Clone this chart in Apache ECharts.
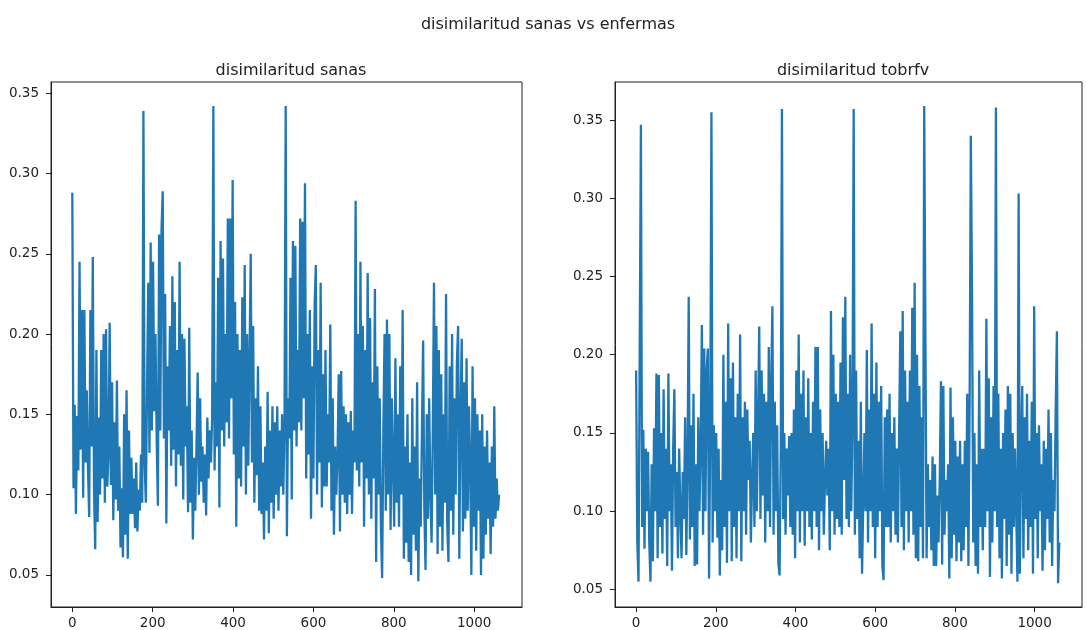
<!DOCTYPE html>
<html>
<head>
<meta charset="utf-8">
<script src="https://cdn.jsdelivr.net/npm/echarts@6/dist/echarts.min.js"></script>
<style>
html,body{margin:0;padding:0;background:#fff;}
#c{width:1087px;height:630px;}
</style>
</head>
<body>
<div id="c"></div>
<script>
// sample spacing of the values below (every 3rd sample of ~1065)
const STEP = 3;
const suptitle = 'disimilaritud sanas vs enfermas';
const titles = ['disimilaritud sanas', 'disimilaritud tobrfv'];
const xTicks = [0, 200, 400, 600, 800, 1000];
const yTicks = [0.05, 0.10, 0.15, 0.20, 0.25, 0.30, 0.35];

const sanas = [
0.288,0.104,0.156,0.088,0.149,0.115,0.245,0.128,0.215,0.098,
0.215,0.120,0.165,0.117,0.086,0.215,0.130,0.248,0.103,0.066,
0.190,0.083,0.148,0.100,0.190,0.110,0.200,0.095,0.203,0.105,
0.125,0.207,0.106,0.170,0.084,0.145,0.097,0.171,0.090,0.130,
0.067,0.104,0.061,0.150,0.075,0.165,0.060,0.140,0.088,0.123,
0.088,0.110,0.079,0.120,0.077,0.103,0.090,0.125,0.095,0.339,
0.120,0.095,0.168,0.232,0.126,0.257,0.140,0.245,0.152,0.200,
0.133,0.093,0.262,0.140,0.265,0.289,0.135,0.225,0.082,0.180,
0.140,0.205,0.118,0.236,0.128,0.220,0.105,0.190,0.125,0.245,
0.118,0.200,0.097,0.197,0.130,0.155,0.089,0.204,0.095,0.140,
0.072,0.123,0.090,0.130,0.176,0.100,0.160,0.108,0.130,0.095,
0.125,0.087,0.148,0.110,0.140,0.120,0.148,0.342,0.115,0.170,
0.130,0.235,0.092,0.258,0.140,0.247,0.130,0.200,0.145,0.272,
0.135,0.272,0.160,0.296,0.125,0.220,0.080,0.200,0.110,0.190,
0.105,0.223,0.130,0.243,0.100,0.200,0.118,0.185,0.250,0.120,
0.205,0.095,0.160,0.112,0.180,0.090,0.155,0.088,0.120,0.072,
0.130,0.090,0.164,0.076,0.140,0.095,0.155,0.085,0.145,0.100,
0.155,0.090,0.140,0.105,0.150,0.100,0.142,0.342,0.074,0.160,
0.135,0.235,0.097,0.258,0.140,0.255,0.130,0.190,0.145,0.272,
0.140,0.270,0.160,0.294,0.110,0.200,0.125,0.215,0.085,0.180,
0.110,0.218,0.243,0.100,0.190,0.120,0.232,0.092,0.175,0.105,
0.190,0.105,0.150,0.120,0.206,0.090,0.160,0.075,0.130,0.100,
0.125,0.175,0.077,0.177,0.100,0.155,0.095,0.150,0.088,0.145,
0.100,0.152,0.088,0.140,0.120,0.283,0.115,0.200,0.105,0.245,
0.120,0.205,0.080,0.190,0.110,0.238,0.100,0.210,0.085,0.170,
0.110,0.228,0.058,0.180,0.100,0.160,0.079,0.048,0.140,0.200,
0.090,0.209,0.100,0.200,0.078,0.160,0.120,0.080,0.185,0.095,
0.150,0.080,0.180,0.100,0.215,0.060,0.130,0.070,0.150,0.058,
0.120,0.050,0.160,0.075,0.130,0.065,0.170,0.046,0.110,0.080,
0.140,0.196,0.090,0.053,0.150,0.085,0.160,0.100,0.070,0.140,
0.232,0.100,0.205,0.063,0.190,0.080,0.175,0.065,0.150,0.095,
0.225,0.080,0.058,0.180,0.090,0.200,0.075,0.160,0.100,0.182,
0.205,0.060,0.150,0.197,0.077,0.170,0.085,0.185,0.090,0.155,
0.120,0.050,0.180,0.080,0.160,0.065,0.150,0.090,0.140,0.050,
0.150,0.060,0.130,0.075,0.140,0.085,0.120,0.063,0.130,0.080,
0.155,0.085,0.110,0.090,0.100
];

const tobrfv = [
0.190,0.080,0.055,0.201,0.347,0.090,0.152,0.076,0.140,0.100,
0.138,0.080,0.055,0.130,0.068,0.153,0.100,0.188,0.070,0.187,
0.090,0.150,0.073,0.178,0.095,0.140,0.065,0.188,0.100,0.130,
0.062,0.140,0.178,0.090,0.125,0.070,0.140,0.100,0.070,0.125,
0.095,0.160,0.072,0.130,0.237,0.082,0.155,0.090,0.175,0.065,
0.130,0.066,0.160,0.100,0.140,0.219,0.085,0.204,0.100,0.190,
0.204,0.057,0.150,0.355,0.080,0.155,0.100,0.150,0.083,0.140,
0.059,0.120,0.075,0.200,0.090,0.170,0.067,0.220,0.100,0.185,
0.068,0.195,0.090,0.160,0.070,0.175,0.100,0.213,0.068,0.160,
0.100,0.170,0.085,0.165,0.120,0.145,0.080,0.120,0.150,0.090,
0.190,0.100,0.160,0.218,0.095,0.190,0.110,0.175,0.080,0.170,
0.100,0.205,0.090,0.180,0.231,0.085,0.170,0.100,0.155,0.067,
0.059,0.140,0.357,0.095,0.150,0.085,0.140,0.110,0.148,0.090,
0.150,0.085,0.165,0.070,0.190,0.100,0.213,0.080,0.175,0.100,
0.190,0.078,0.160,0.100,0.185,0.090,0.150,0.082,0.170,0.100,
0.205,0.090,0.205,0.075,0.165,0.100,0.150,0.085,0.120,0.145,
0.110,0.140,0.075,0.228,0.100,0.200,0.085,0.175,0.095,0.170,
0.090,0.195,0.085,0.224,0.120,0.237,0.095,0.175,0.090,0.200,
0.100,0.160,0.357,0.085,0.190,0.095,0.145,0.070,0.170,0.060,
0.059,0.150,0.100,0.203,0.080,0.165,0.100,0.220,0.090,0.175,
0.070,0.195,0.090,0.170,0.100,0.180,0.065,0.056,0.160,0.090,
0.165,0.090,0.175,0.080,0.150,0.100,0.160,0.085,0.140,0.080,
0.150,0.215,0.090,0.228,0.075,0.190,0.100,0.170,0.080,0.190,
0.100,0.230,0.085,0.246,0.070,0.200,0.068,0.180,0.090,0.160,
0.070,0.359,0.359,0.070,0.130,0.090,0.120,0.075,0.135,0.065,
0.130,0.065,0.110,0.080,0.120,0.183,0.066,0.180,0.085,0.120,
0.100,0.130,0.057,0.179,0.070,0.160,0.085,0.145,0.068,0.135,
0.080,0.145,0.068,0.130,0.075,0.145,0.090,0.175,0.065,0.170,
0.340,0.240,0.080,0.150,0.065,0.130,0.060,0.190,0.090,0.140,
0.075,0.140,0.090,0.223,0.100,0.185,0.058,0.160,0.080,0.180,
0.100,0.358,0.090,0.175,0.070,0.140,0.057,0.150,0.095,0.165,
0.065,0.180,0.085,0.175,0.060,0.150,0.090,0.140,0.100,0.055,
0.303,0.060,0.140,0.180,0.070,0.160,0.095,0.175,0.075,0.145,
0.090,0.170,0.060,0.231,0.095,0.150,0.070,0.155,0.100,0.130,
0.062,0.145,0.075,0.140,0.095,0.165,0.080,0.150,0.065,0.120,
0.100,0.165,0.215,0.054,0.080
];

const FONT = 'DejaVu Sans';
const toPairs = arr => arr.map((v, i) => [i * STEP, v]);

function xAxisCfg(gi) {
  return {
    type: 'value', gridIndex: gi, min: -53, max: 1119,
    axisLine: {show: true, onZero: false, lineStyle: {color: '#222', width: 1}},
    axisTick: {show: true, length: 5, customValues: xTicks, lineStyle: {color: '#222'}},
    axisLabel: {customValues: xTicks, margin: 9, color: '#222', fontFamily: FONT, fontSize: 13.5,
      formatter: v => String(v)},
    splitLine: {show: false}
  };
}
function yAxisCfg(gi, mn, mx) {
  return {
    type: 'value', gridIndex: gi, min: mn, max: mx,
    axisLine: {show: true, onZero: false, lineStyle: {color: '#222', width: 1}},
    axisTick: {show: true, length: 5, customValues: yTicks, lineStyle: {color: '#222'}},
    axisLabel: {customValues: yTicks, margin: 12, color: '#222', fontFamily: FONT, fontSize: 13.5,
      formatter: v => v.toFixed(2)},
    splitLine: {show: false}
  };
}

const chart = echarts.init(document.getElementById('c'), null, {renderer: 'canvas'});
chart.setOption({
  animation: false,
  backgroundColor: '#fff',
  title: [
    {text: suptitle, left: 543, top: 12, textAlign: 'center',
     textStyle: {fontFamily: FONT, fontSize: 16, fontWeight: 'normal', color: '#222'}},
    {text: titles[0], left: 286, top: 58, textAlign: 'center',
     textStyle: {fontFamily: FONT, fontSize: 16, fontWeight: 'normal', color: '#222'}},
    {text: titles[1], left: 848, top: 58, textAlign: 'center',
     textStyle: {fontFamily: FONT, fontSize: 16, fontWeight: 'normal', color: '#222'}}
  ],
  grid: [
    {left: 51, top: 82, width: 471, height: 525, show: true, borderColor: '#222', borderWidth: 1, backgroundColor: 'transparent'},
    {left: 615, top: 82, width: 467, height: 525, show: true, borderColor: '#222', borderWidth: 1, backgroundColor: 'transparent'}
  ],
  xAxis: [xAxisCfg(0), xAxisCfg(1)],
  yAxis: [yAxisCfg(0, 0.030, 0.357), yAxisCfg(1, 0.0388, 0.3743)],
  series: [
    {type: 'line', xAxisIndex: 0, yAxisIndex: 0, data: toPairs(sanas), showSymbol: false,
     lineStyle: {color: '#1f77b4', width: 2.3, join: 'miter'}, itemStyle: {color: '#1f77b4'}},
    {type: 'line', xAxisIndex: 1, yAxisIndex: 1, data: toPairs(tobrfv), showSymbol: false,
     lineStyle: {color: '#1f77b4', width: 2.3, join: 'miter'}, itemStyle: {color: '#1f77b4'}}
  ]
});
</script>
</body>
</html>
